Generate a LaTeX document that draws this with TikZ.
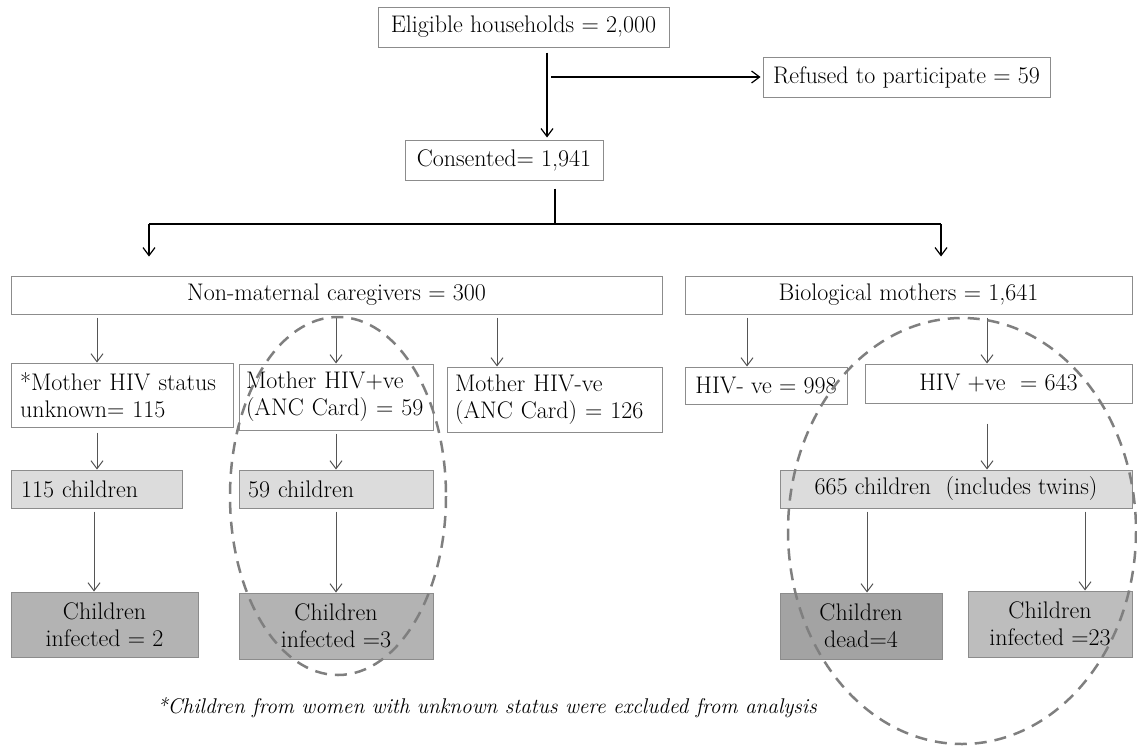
\documentclass[tikz,border=0pt]{standalone}
\usepackage{fontspec}
\usepackage{tikz}
\usetikzlibrary{arrows.meta}
\definecolor{boxline}{HTML}{8C8C8C}
\definecolor{linkgray}{HTML}{555555}
\definecolor{ringgray}{HTML}{7F7F7F}
\definecolor{lightfill}{HTML}{DCDCDC}
\definecolor{midfill}{HTML}{B3B3B3}
\definecolor{darkfill}{HTML}{A3A3A3}
\definecolor{softfill}{HTML}{BDBDBD}

\begin{document}
\begin{tikzpicture}[x=1pt, y=-1pt, font=\fontsize{24}{27}\selectfont,
  box/.style={draw=boxline, line width=1pt, fill=white, inner xsep=10pt, inner ysep=0pt, align=center},
  dims/.style 2 args={minimum width=#1pt, minimum height=#2pt},
  arr/.style={-{Straight Barb[length=8pt,width=12pt]}},
  link/.style={linkgray, line width=1pt, arr, shorten <=3pt},
  ring/.style={ringgray, line width=2.5pt, dash pattern=on 12pt off 8pt}]
\useasboundingbox (0,0) rectangle (1137,747);

\node [box, dims={291}{40}] (elig) at (523.5,27) {Eligible households = 2,000};
\node [box, dims={287}{40}] (refused) at (906.5,77) {Refused to participate = 59};
\node [box, dims={198}{40}] (consent) at (504,160) {Consented= 1,941};
\node [box, dims={651}{38}] (nonmat) at (336.5,295) {Non-maternal caregivers = 300};
\node [box, dims={447}{38}] (bio) at (908.5,295) {Biological mothers = 1,641};
\node [box, dims={222}{64}, text width=204pt, inner xsep=9pt, align=left] (unknown) at (122,395) {*Mother HIV status\\unknown= 115};
\node [box, dims={194}{66}, text width=180pt, inner xsep=7pt, align=left] (hivpos) at (336,397) {Mother HIV+ve\\(ANC Card) = 59};
\node [box, dims={215}{65}, text width=199pt, inner xsep=8pt, align=left] (hivneg) at (554.5,399.5) {Mother HIV-ve\\(ANC Card) = 126};
\node [box, dims={162}{37}] (neg) at (766,385.5) {HIV- ve = 998};
\node [box, dims={267}{39}] (pos) at (998.5,383.5) {HIV +ve~ = 643};
\node [box, fill=lightfill, dims={171}{38}, text width=151pt, align=left] (ch115) at (96.5,489) {115 children};
\node [box, fill=lightfill, dims={194}{38}, text width=176pt, inner xsep=9pt, align=left] (ch59) at (336,489) {59 children};
\node [box, fill=lightfill, dims={352}{38}] (ch665) at (956,489) {665 children~ (includes twins)};
\node [box, fill=midfill, dims={187}{65}] (inf2) at (104.5,624.5) {Children\\infected = 2};
\node [box, fill=midfill, dims={194}{66}] (inf3) at (336,626) {Children\\infected =3};
\node [box, fill=darkfill, dims={162}{66}] (dead) at (861,626) {Children\\dead=4};
\node [box, fill=softfill, dims={164}{66}] (inf23) at (1050,624) {Children\\infected =23};
\node [font=\fontsize{21.3}{24}\selectfont\itshape] (note) at (487,708) {*Children from women with unknown status were excluded from analysis};

\coordinate (trunk) at (547,77);
\coordinate (fork) at (555,224);
\coordinate (lft) at (149,224);
\coordinate (rgt) at (941,224);
\draw [black, line width=1.2pt, arr, shorten <=5pt, shorten >=2pt] (elig.south -| trunk) -- (consent.north -| trunk);
\draw [black, line width=1.2pt, arr, shorten >=2pt] ([xshift=4pt]trunk) -- (refused.west);
\draw [black, line width=2.5pt, shorten <=8pt] (consent.south -| fork) -- (fork);
\draw [black, line width=1.5pt] (lft) -- (rgt);
\draw [black, line width=1.2pt, arr, shorten >=19pt] (lft) -- (nonmat.north -| lft);
\draw [black, line width=1.2pt, arr, shorten >=19pt] (rgt) -- (bio.north -| rgt);

\coordinate (ca) at (97,0);
\coordinate (cb) at (336,0);
\coordinate (cc) at (497,0);
\coordinate (cd) at (747,0);
\coordinate (ce) at (987,0);
\coordinate (cf) at (94,0);
\coordinate (cg) at (867,0);
\coordinate (ch) at (1085,0);
\draw [link] (nonmat.south -| ca) -- (unknown.north -| ca);
\draw [link] (nonmat.south -| cb) -- (hivpos.north -| cb);
\draw [link] (nonmat.south -| cc) -- (hivneg.north -| cc);
\draw [link] (bio.south -| cd) -- (neg.north -| cd);
\draw [link] (bio.south -| ce) -- (pos.north -| ce);
\draw [link, shorten <=5pt] (unknown.south -| ca) -- (ch115.north -| ca);
\draw [link] (hivpos.south -| cb) -- (ch59.north -| cb);
\draw [link, shorten <=20pt] (pos.south -| ce) -- (ch665.north -| ce);
\draw [link] (ch115.south -| cf) -- (inf2.north -| cf);
\draw [link] (ch59.south -| cb) -- (inf3.north -| cb);
\draw [link] (ch665.south -| cg) -- (dead.north -| cg);
\draw [link] (ch665.south -| ch) -- (inf23.north -| ch);

\draw [ring] (338,496) ellipse [x radius=108, y radius=179];
\draw [ring] (962,531) ellipse [x radius=174, y radius=213];
\end{tikzpicture}
\end{document}
